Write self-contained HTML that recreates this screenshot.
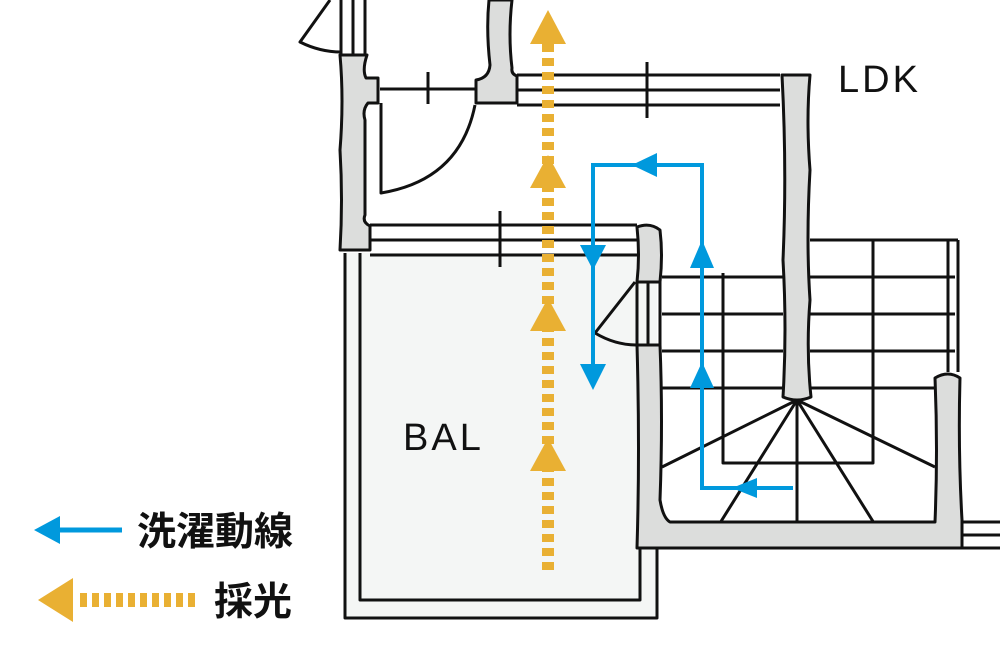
<!DOCTYPE html>
<html><head><meta charset="utf-8"><style>
html,body{margin:0;padding:0;background:#fff;width:1000px;height:650px;overflow:hidden}
svg{display:block}
</style></head><body>
<svg width="1000" height="650" viewBox="0 0 1000 650" xmlns="http://www.w3.org/2000/svg">
<g stroke="#111" stroke-width="3" fill="none" stroke-linejoin="round">
<rect x="345" y="253" width="312" height="365" fill="#f4f6f5" stroke="none"/>
<path d="M345 253 V618 H657 V548"/>
<path d="M360 253 V600 H640 V548"/>
<path d="M341 0 V55 M353 0 V55 M365 0 V55"/>
<path d="M330 0 L300 42 Q320 52 341 52"/>
<path d="M340 55 H367 Q362 70 366 78 H378 V103 H368 Q362 110 365 120 V215 Q362 222 370 226 V250 H340 Q343 200 340 150 Q344 100 340 55 Z" fill="#dcdddc"/>
<path d="M489 0 H512 Q508 35 512 68 Q511 74 517 76 V103 H476 V80 Q489 78 490 65 Q486 30 489 0 Z" fill="#dcdddc"/>
<path d="M380 89 H477 M428 72 V104"/>
<path d="M381 103 V193 Q460 180 475 105"/>
<path d="M517 75 H780 M517 90 H780 M517 105 H780 M647 62 V118"/>
<path d="M782 75 H810 Q806 120 810 170 Q806 240 810 300 Q806 350 811 397 Q797 403 783 397 Q787 330 783 260 Q787 170 782 75 Z" fill="#dcdddc"/>
<path d="M370 225 H637 M370 240 H637 M370 255 H637 M500 211 V267"/>
<path d="M637 227 Q650 222 660 230 Q663 255 660 282 H637 Q640 255 637 227 Z" fill="#dcdddc"/>
<path d="M637 282 V345 M648 282 V345 M660 282 V345"/>
<path d="M635 282 L595 333 Q615 345 637 345"/>
<path d="M810 240 H958 M948 240 V372 M958 240 V372"/>
<path d="M662 277 H783 M810 277 H955 M662 314 H783 M810 314 H955 M662 351 H783 M810 351 H955 M662 388 H783 M810 388 H935"/>
<path d="M723 273 V463 H873 V240"/>
<path d="M797 400 L662 467 M797 400 L720 523 M797 400 V523 M797 400 L874 523 M797 400 L935 467"/>
<path d="M637 345 H660 Q663 420 660 500 Q663 518 670 522 H935 Q938 450 935 378 Q948 370 960 378 Q958 450 962 520 V548 H637 Q640 450 637 345 Z" fill="#dcdddc"/>
<path d="M962 522 H1000 M962 535 H1000 M962 548 H1000"/>
</g>
<g fill="#e9b033">
<line x1="548" y1="44" x2="548" y2="576" stroke="#e9b033" stroke-width="12" stroke-dasharray="8 6"/>
<polygon points="548,10 530,44 566,44"/>
<polygon points="548,155 530,188 566,188"/>
<polygon points="548,298 530,331 566,331"/>
<polygon points="548,438 530,471 566,471"/>
</g>
<g fill="#0099dd">
<path d="M793 488 H702 V165 H593 V380" stroke="#0099dd" stroke-width="4" fill="none"/>
<polygon points="732,488 757,478 757,498"/>
<polygon points="702,240 690,268 714,268"/>
<polygon points="702,362 690,388 714,388"/>
<polygon points="632,165 657,153 657,177"/>
<polygon points="593,270 580,245 606,245"/>
<polygon points="593,390 580,364 606,364"/>
</g>
<text x="838" y="92" font-family="Liberation Sans, sans-serif" font-size="38" fill="#111" letter-spacing="3">LDK</text>
<text x="403" y="450" font-family="Liberation Sans, sans-serif" font-size="38" fill="#111" letter-spacing="3">BAL</text>
<line x1="55" y1="530" x2="122" y2="530" stroke="#0099dd" stroke-width="5"/>
<polygon points="34,530 60,516 60,544" fill="#0099dd"/>
<text x="137" y="545" font-family="Liberation Sans, Noto Sans CJK JP, sans-serif" font-size="39" font-weight="bold" fill="#111">洗濯動線</text>
<polygon points="38,600 73,578 73,622" fill="#e9b033"/>
<line x1="80" y1="600" x2="196" y2="600" stroke="#e9b033" stroke-width="14" stroke-dasharray="7 5"/>
<text x="214" y="615" font-family="Liberation Sans, Noto Sans CJK JP, sans-serif" font-size="39" font-weight="bold" fill="#111">採光</text>
</svg>
</body></html>
